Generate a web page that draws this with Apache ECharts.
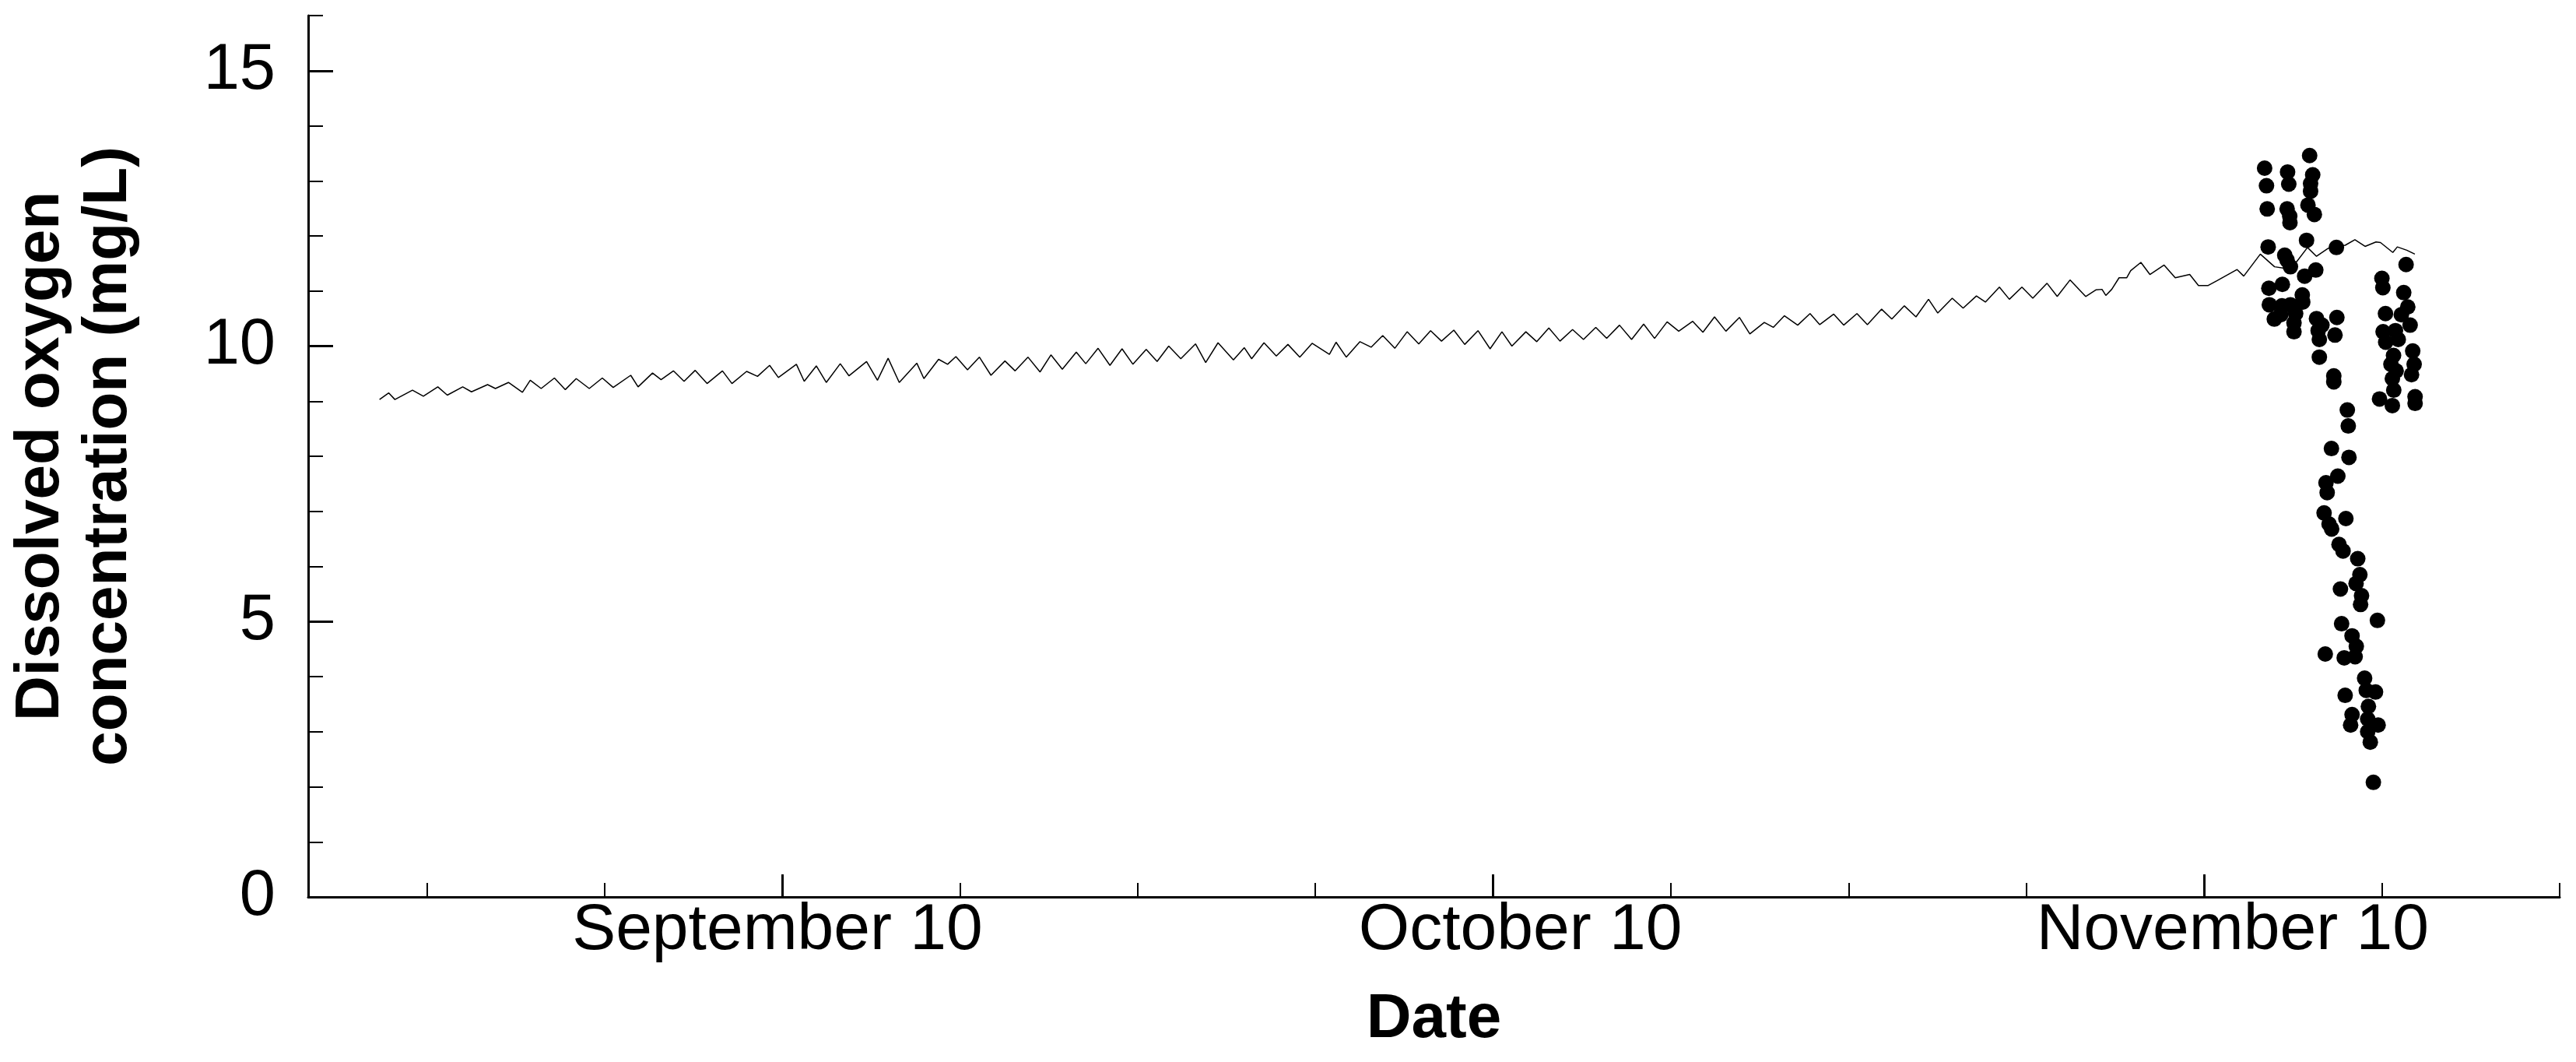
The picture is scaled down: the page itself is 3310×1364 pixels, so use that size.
<!DOCTYPE html>
<html>
<head>
<meta charset="utf-8">
<script src="https://cdn.jsdelivr.net/npm/echarts@6/dist/echarts.min.js"></script>
<style>
html,body{margin:0;padding:0;background:#fff;}
#chart{width:3310px;height:1364px;}
</style>
</head>
<body>
<div id="chart"></div>
<script>
// x values are days relative to September 10 (0 = Sep 10, 30 = Oct 10, 60 = Nov 10)
const tickValues = [0, 30, 60];
const tickLabels = ['September 10', 'October 10', 'November 10'];
const labelPositions = [-0.2, 31.15, 61.2];
const minorTickValues = [-15, -7.5, 7.5, 15, 22.5, 37.5, 45, 52.5, 67.5, 75];
const yMajorTicks = [0, 5, 10, 15];
const yMinorTicks = [1, 2, 3, 4, 6, 7, 8, 9, 11, 12, 13, 14, 16];

// simulated dissolved oxygen (line)
const modelDays = [
-16.99,-16.6,-16.34,-15.6,-15.14,-14.53,-14.13,-13.48,-13.11,-12.43,-12.10,-11.55,-10.96,-10.63,-10.17,
-9.61,-9.15,-8.69,-8.14,-7.59,-7.13,-6.39,-6.08,-5.47,-5.11,-4.59,-4.14,-3.67,-3.17,-2.52,-2.12,-1.5,-1.04,
-0.53,-0.16,0.6,0.93,1.44,1.86,2.45,2.82,3.56,4.02,4.47,4.94,5.68,5.98,6.60,6.98,7.33,7.82,8.32,8.81,9.40,9.83,
10.37,10.88,11.34,11.82,12.41,12.81,13.33,13.83,14.34,14.80,15.36,15.82,16.31,16.82,17.44,17.87,18.39,19.04,
19.50,19.81,20.33,20.85,21.34,21.84,22.36,23.09,23.37,23.80,24.38,24.85,25.34,25.85,26.37,26.86,27.36,27.82,
28.34,28.80,29.36,29.87,30.37,30.79,31.38,31.84,32.35,32.82,33.35,33.81,34.33,34.79,35.33,35.84,36.35,36.81,
37.34,37.83,38.42,38.85,39.34,39.82,40.39,40.83,41.44,41.82,42.29,42.85,43.37,43.78,44.37,44.79,45.35,45.79,
46.39,46.82,47.35,47.84,48.37,48.76,49.37,49.83,50.39,50.77,51.36,51.78,52.31,52.77,53.37,53.80,54.34,55.0,
55.43,55.69,55.85,56.1,56.41,56.73,56.90,57.33,57.71,58.31,58.78,59.39,59.76,60.17,60.55,61.39,61.67,62.37,
62.97,63.44,63.90,64.36,64.74,65.21,65.57,65.95,66.36,66.79,67.25,67.44,67.96,68.15,68.55,68.89
];
const modelDO = [
9.03,9.15,9.03,9.20,9.09,9.26,9.11,9.26,9.17,9.30,9.23,9.34,9.16,9.38,9.23,
9.42,9.21,9.41,9.23,9.42,9.25,9.47,9.26,9.51,9.39,9.55,9.36,9.56,9.32,9.55,9.32,9.54,9.45,
9.65,9.43,9.67,9.36,9.64,9.34,9.68,9.46,9.72,9.38,9.78,9.34,9.69,9.41,9.76,9.67,9.81,9.57,9.80,9.47,9.73,9.55,
9.80,9.53,9.84,9.58,9.89,9.68,9.96,9.65,9.95,9.67,9.94,9.72,10.00,9.77,10.04,9.70,10.06,9.75,
9.97,9.77,10.06,9.82,10.03,9.80,10.05,9.85,10.07,9.80,10.08,9.98,10.19,9.96,10.26,10.04,10.28,10.09,
10.29,10.03,10.28,9.95,10.26,10.00,10.26,10.08,10.33,10.09,10.30,10.12,10.34,10.14,10.38,10.12,10.40,10.14,
10.44,10.27,10.45,10.25,10.53,10.27,10.52,10.22,10.43,10.34,10.55,10.38,10.59,10.39,10.58,10.38,10.59,10.39,
10.67,10.49,10.73,10.53,10.85,10.60,10.87,10.69,10.91,10.80,11.07,10.85,11.07,10.87,11.14,10.90,11.20,10.90,
11.02,11.03,10.92,11.03,11.24,11.24,11.37,11.52,11.30,11.47,11.24,11.30,11.10,11.10,11.19,11.39,11.27,11.67,
11.44,11.41,11.53,11.79,11.63,11.77,11.81,11.83,11.93,11.81,11.89,11.88,11.70,11.80,11.74,11.67
];

// observed dissolved oxygen (dots)
const obsDays = [
62.55,62.63,62.66,62.70,62.73,63.30,62.75,62.96,63.28,63.23,63.52,63.57,63.50,63.61,63.62,63.40,63.50,63.64,
63.64,63.86,63.79,63.79,64.45,64.58,64.49,64.49,64.38,64.65,64.32,64.24,64.71,64.14,64.16,65.58,64.74,65.60,
64.97,64.81,64.86,65.52,64.86,65.47,65.47,66.04,66.08,65.37,66.11,65.64,65.14,65.19,65.06,65.98,65.27,65.38,
65.69,65.86,66.48,66.57,66.41,65.75,66.64,66.60,67.31,65.80,66.24,66.42,65.11,65.91,66.37,66.77,65.95,66.84,
67.23,66.93,66.24,66.18,66.90,67.34,66.90,67.01,67.14,68.52,67.50,67.54,68.42,67.65,68.59,68.32,68.69,67.55,
68.07,67.66,68.19,67.99,68.80,67.88,68.86,68.10,68.75,67.94,68.00,67.40,67.94,68.90,68.90
];
const obsDO = [
13.23,12.91,12.49,11.80,11.05,11.12,10.75,10.49,10.73,10.57,13.16,12.94,12.49,12.36,12.24,11.65,11.56,11.44,
10.75,10.59,10.42,10.26,13.46,13.11,12.95,12.81,12.56,12.39,11.92,11.27,11.38,10.93,10.80,11.79,10.50,10.52,
10.38,10.28,10.12,10.20,9.80,9.46,9.35,8.84,8.55,8.14,7.98,7.64,7.52,7.34,6.97,6.87,6.77,6.68,
6.40,6.28,6.14,5.85,5.69,5.59,5.47,5.31,5.02,4.96,4.74,4.55,4.41,4.34,4.36,3.97,3.66,3.75,
3.72,3.46,3.31,3.12,3.23,3.12,3.00,2.81,2.08,11.48,11.23,11.06,10.97,10.59,10.71,10.57,10.38,10.26,
10.28,10.07,10.12,9.83,9.91,9.67,9.67,9.55,9.48,9.41,9.20,9.04,8.92,9.08,8.96
];

const modelData = modelDays.map((d, i) => [d, modelDO[i]]);
const obsData = obsDays.map((d, i) => [d, obsDO[i]]);

const FONT = '"Liberation Sans", Arial, sans-serif';
const chart = echarts.init(document.getElementById('chart'), null, {renderer: 'canvas'});
chart.setOption({
  animation: false,
  backgroundColor: '#ffffff',
  grid: {left: 396, right: 21, top: 20, bottom: 212, containLabel: false, outerBoundsMode: 'none'},
  xAxis: [
    {
      type: 'value', min: -20, max: 75, position: 'bottom',
      axisLine: {show: true, onZero: false, lineStyle: {color: '#000', width: 3}},
      axisTick: {show: true, inside: true, length: 18, customValues: minorTickValues, lineStyle: {color: '#000', width: 2}},
      axisLabel: {show: true, customValues: labelPositions, margin: 2, color: '#000', fontFamily: FONT, fontSize: 84,
        formatter: v => tickLabels[labelPositions.indexOf(v)] || ''},
      splitLine: {show: false},
      name: 'Date', nameLocation: 'middle', nameGap: 118,
      nameTextStyle: {color: '#000', fontFamily: FONT, fontSize: 80, fontWeight: 'bold'}
    },
    {
      type: 'value', min: -20, max: 75, position: 'bottom', offset: 0,
      axisLine: {show: false, onZero: false},
      axisTick: {show: true, inside: true, length: 29, customValues: tickValues, lineStyle: {color: '#000', width: 3}},
      axisLabel: {show: false},
      splitLine: {show: false}
    }
  ],
  yAxis: [
    {
      type: 'value', min: 0, max: 16, position: 'left',
      axisLine: {show: true, onZero: false, lineStyle: {color: '#000', width: 3}},
      axisTick: {show: true, inside: true, length: 32, customValues: yMajorTicks, lineStyle: {color: '#000', width: 3}},
      axisLabel: {show: true, customValues: yMajorTicks, margin: 42, color: '#000', fontFamily: FONT, fontSize: 83},
      splitLine: {show: false},
      name: 'Dissolved oxygen\nconcentration (mg/L)', nameLocation: 'middle', nameGap: 213, nameRotate: 90,
      nameTextStyle: {color: '#000', fontFamily: FONT, fontSize: 80, fontWeight: 'bold', lineHeight: 87, align: 'center'}
    },
    {
      type: 'value', min: 0, max: 16, position: 'left', offset: 0,
      axisLine: {show: false, onZero: false},
      axisTick: {show: true, inside: true, length: 19, customValues: yMinorTicks, lineStyle: {color: '#000', width: 2}},
      axisLabel: {show: false},
      splitLine: {show: false}
    }
  ],
  series: [
    {
      type: 'line', xAxisIndex: 0, yAxisIndex: 0, data: modelData,
      showSymbol: false, symbol: 'none', lineStyle: {color: '#000', width: 1.5}, z: 2
    },
    {
      type: 'scatter', xAxisIndex: 0, yAxisIndex: 0, data: obsData,
      symbol: 'circle', symbolSize: 20, itemStyle: {color: '#000', opacity: 1}, z: 3
    }
  ]
});
</script>
</body>
</html>
